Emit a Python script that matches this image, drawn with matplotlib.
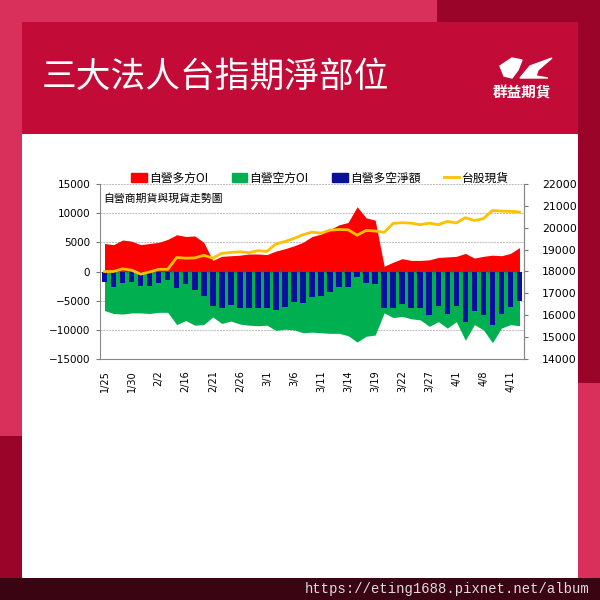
import matplotlib.pyplot as plt
import matplotlib.patches as mpatches
from matplotlib.lines import Line2D
import numpy as np

plt.rcParams['font.family'] = ['Noto Sans CJK TC', 'DejaVu Sans']

# 日期 (交易日)
dates = ['1/25', '1/26', '1/29', '1/30', '1/31', '2/1', '2/2', '2/5', '2/15', '2/16',
         '2/19', '2/20', '2/21', '2/22', '2/23', '2/26', '2/27', '2/29', '3/1', '3/4',
         '3/5', '3/6', '3/7', '3/8', '3/11', '3/12', '3/13', '3/14', '3/15', '3/18',
         '3/19', '3/20', '3/21', '3/22', '3/25', '3/26', '3/27', '3/28', '3/29', '4/1',
         '4/2', '4/3', '4/8', '4/9', '4/10', '4/11', '4/12']

# 自營多方OI
long_oi = [4800, 4600, 5400, 5200, 4600, 4800, 5000, 5500, 6300, 6000,
           6100, 5000, 1900, 2600, 2700, 2800, 3000, 3000, 2900, 3500,
           3900, 4400, 5000, 6000, 6400, 7200, 8000, 8400, 11100, 9200,
           8800, 900, 1600, 2200, 1900, 1900, 2000, 2400, 2500, 2600,
           3100, 2300, 2600, 2800, 2700, 3100, 4100]

# 自營空方OI
short_oi = [-6700, -7200, -7300, -7100, -7100, -7200, -7000, -7000, -9100, -8400,
            -9200, -9100, -7800, -8900, -8500, -9000, -9200, -9300, -9200, -10100,
            -9900, -10000, -10500, -10400, -10500, -10600, -10600, -11000, -12100, -11100,
            -10900, -7100, -7900, -7700, -8100, -8300, -9400, -8600, -9700, -8600,
            -11800, -9100, -10000, -12200, -9700, -9100, -9300]

# 自營多空淨額
net_oi = [-1800, -2600, -1900, -1800, -2500, -2500, -1900, -1500, -2800, -2200,
          -3100, -4200, -5900, -6300, -5800, -6300, -6300, -6300, -6300, -6600,
          -6000, -5200, -5400, -4300, -4200, -3500, -2600, -2700, -1000, -1900,
          -2100, -6200, -6200, -5500, -6200, -6200, -7400, -5900, -7200, -5900,
          -8600, -6800, -7400, -9200, -7200, -6000, -5100]

# 台股現貨
spot = [18000, 18000, 18120, 18060, 17880, 17980, 18100, 18100, 18640, 18610,
        18620, 18740, 18610, 18830, 18870, 18900, 18860, 18950, 18920, 19260,
        19370, 19510, 19680, 19800, 19750, 19890, 19920, 19910, 19660, 19880,
        19850, 19790, 20200, 20230, 20210, 20140, 20210, 20140, 20290, 20220,
        20460, 20330, 20420, 20790, 20760, 20750, 20720]

PINK = '#D8305A'
BANNER = '#C20C37'
DARK = '#9A0428'
W, H = 600, 600

fig = plt.figure(figsize=(6, 6), dpi=100, facecolor=PINK)


def rect(x0, y0, x1, y1, color):
    # pixel box (top-left origin) -> figure rectangle
    fig.patches.append(mpatches.Rectangle((x0 / W, 1 - y1 / H), (x1 - x0) / W, (y1 - y0) / H,
                                          transform=fig.transFigure, color=color,
                                          zorder=-10, linewidth=0))


# 背景框
rect(437, 0, 600, 22, DARK)
rect(578, 0, 600, 383, DARK)
rect(0, 436, 22, 578, DARK)
rect(22, 22, 578, 134, BANNER)
rect(22, 134, 578, 578, 'white')
rect(0, 578, 600, 600, '#3A0412')

fig.text(42 / W, 1 - 77 / H, '三大法人台指期淨部位', color='white', fontsize=25,
         fontweight='medium', va='center', ha='left')
fig.text(522 / W, 1 - 92 / H, '群益期貨', color='white', fontsize=10.5,
         fontweight='bold', va='center', ha='center')
# 簡單的鳥形標誌
fig.patches.append(mpatches.Polygon(
    [(500 / W, 1 - 66 / H), (512 / W, 1 - 58 / H), (522 / W, 1 - 60 / H), (518 / W, 1 - 70 / H),
     (512 / W, 1 - 78 / H), (504 / W, 1 - 76 / H)],
    closed=True, transform=fig.transFigure, color='white', zorder=2))
fig.patches.append(mpatches.Polygon(
    [(520 / W, 1 - 78 / H), (530 / W, 1 - 66 / H), (552 / W, 1 - 58 / H), (538 / W, 1 - 70 / H),
     (536 / W, 1 - 76 / H), (548 / W, 1 - 78 / H)],
    closed=True, transform=fig.transFigure, color='white', zorder=2))
fig.text(590 / W, 1 - 589 / H, 'https://eting1688.pixnet.net/album', color='#DDDDDD',
         fontsize=10, family='Liberation Mono', ha='right', va='center')

# 圖表
x = np.arange(len(dates))
ax = fig.add_axes([100 / W, 1 - 359 / H, 424 / W, 175 / H])
ax.set_facecolor('none')
ax.fill_between(x, 0, long_oi, color='#FF0000', linewidth=0, zorder=1)
ax.fill_between(x, 0, short_oi, color='#00B050', linewidth=0, zorder=1)
ax.bar(x, net_oi, width=0.62, color='#0A0F9E', zorder=2)
ax.vlines(x[:-1] + 0.5, -300, 400, color='#555555', linewidth=0.7, zorder=3)
ax.set_xlim(-0.5, len(dates) - 0.5)
ax.set_ylim(-15000, 15000)
ax.set_yticks(np.arange(-15000, 15001, 5000))
ax.yaxis.grid(True, color='#BBBBBB', linestyle=(0, (2, 1)), linewidth=0.7)
ax.set_axisbelow(True)
ax.set_xticks(x[::3])
ax.set_xticklabels(dates[::3], rotation=90, family='DejaVu Sans', fontsize=7)
ax.tick_params(axis='x', length=0, pad=8)
ax.tick_params(axis='y', labelsize=7.5, length=3, pad=4, color='#777777')
for lab in ax.get_yticklabels():
    lab.set_family('DejaVu Sans')
ax.spines['top'].set_visible(False)
for s in ['left', 'bottom', 'right']:
    ax.spines[s].set_color('#888888')
    ax.spines[s].set_linewidth(0.8)
ax.text(0.008, 0.915, '自營商期貨與現貨走勢圖', transform=ax.transAxes, fontsize=7.8,
        ha='left', va='center', color='black', zorder=5)

ax2 = ax.twinx()
ax2.plot(x, spot, color='#FFC000', linewidth=2, zorder=4)
ax2.set_ylim(14000, 22000)
ax2.set_yticks(np.arange(14000, 22001, 1000))
ax2.tick_params(axis='y', labelsize=7.8, length=3, pad=10, color='#777777')
for lab in ax2.get_yticklabels():
    lab.set_family('DejaVu Sans')
ax2.spines['top'].set_visible(False)
ax2.spines['right'].set_color('#888888')
ax2.spines['right'].set_linewidth(0.8)
ax2.spines['left'].set_visible(False)
ax2.spines['bottom'].set_visible(False)

handles = [mpatches.Patch(color='#FF0000'), mpatches.Patch(color='#00B050'),
           mpatches.Patch(color='#0A0F9E'), Line2D([], [], color='#FFC000', linewidth=2)]
labels = ['自營多方OI', '自營空方OI', '自營多空淨額', '台股現貨']
fig.legend(handles, labels, loc='center', bbox_to_anchor=(320 / W, 1 - 178 / H), ncol=4,
           frameon=False, fontsize=8.5, handlelength=1.3, handleheight=0.8,
           handletextpad=0.2, columnspacing=2.0)

fig.savefig('out.png', dpi=100, facecolor=PINK)
